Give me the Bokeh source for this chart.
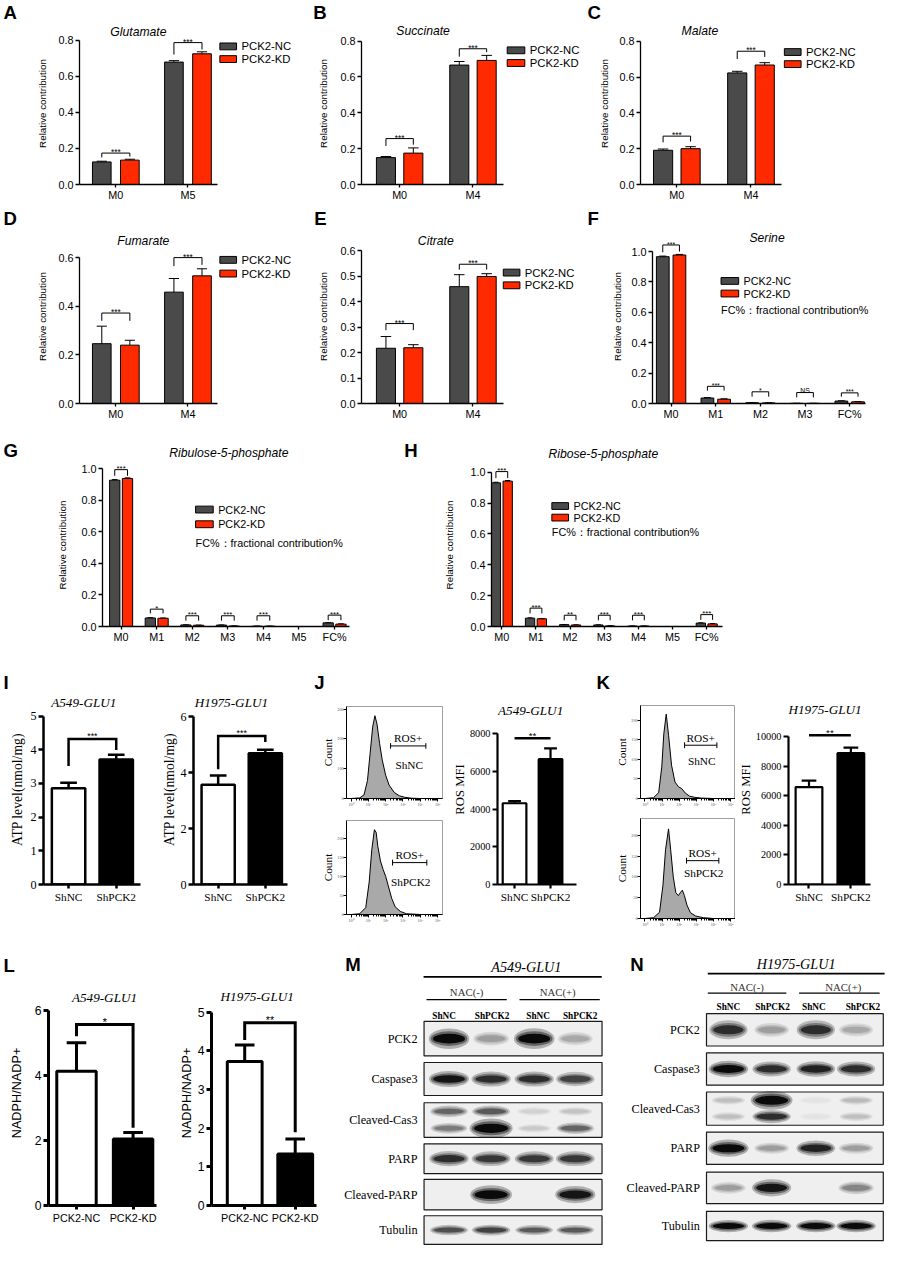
import math
import numpy as np
from bokeh.plotting import figure
from bokeh.models import (Range1d, Label, FixedTicker, Whisker, TeeHead,
                          ColumnDataSource, NumeralTickFormatter)
from bokeh.layouts import row, column
from bokeh.embed import file_html
from bokeh.resources import INLINE
from bokeh.core.properties import value

# ------------------------------------------------------------------ data
series_names = ["PCK2-NC", "PCK2-KD"]
fc_note = "FC%：fractional contribution%"

glu_cats = ["M0", "M5"]
glu_nc = [0.125, 0.678]
glu_nc_err = [0.004, 0.008]
glu_kd = [0.135, 0.724]
glu_kd_err = [0.005, 0.011]
glu_sig = ["***", "***"]
glu_brk = [0.174, 0.786]
glu_leg_nc = [0.150, 0.720]
glu_leg_kd = [0.155, 0.748]

suc_cats = ["M0", "M4"]
suc_nc = [0.150, 0.666]
suc_nc_err = [0.006, 0.020]
suc_kd = [0.175, 0.692]
suc_kd_err = [0.029, 0.028]
suc_sig = ["***", "***"]
suc_brk = [0.256, 0.757]
suc_leg_nc = [0.215, 0.713]
suc_leg_kd = [0.222, 0.738]

mal_cats = ["M0", "M4"]
mal_nc = [0.191, 0.623]
mal_nc_err = [0.007, 0.009]
mal_kd = [0.200, 0.667]
mal_kd_err = [0.011, 0.013]
mal_sig = ["***", "***"]
mal_brk = [0.270, 0.744]
mal_leg_nc = [0.235, 0.700]
mal_leg_kd = [0.240, 0.712]

fum_cats = ["M0", "M4"]
fum_nc = [0.246, 0.458]
fum_nc_err = [0.072, 0.056]
fum_kd = [0.240, 0.525]
fum_kd_err = [0.020, 0.029]
fum_sig = ["***", "***"]
fum_brk = [0.372, 0.600]
fum_leg_nc = [0.340, 0.565]
fum_leg_kd = [0.340, 0.570]

cit_cats = ["M0", "M4"]
cit_nc = [0.217, 0.459]
cit_nc_err = [0.046, 0.047]
cit_kd = [0.219, 0.499]
cit_kd_err = [0.012, 0.011]
cit_sig = ["***", "***"]
cit_brk = [0.314, 0.547]
cit_leg_nc = [0.288, 0.526]
cit_leg_kd = [0.288, 0.526]

ser_cats = ["M0", "M1", "M2", "M3", "FC%"]
ser_nc = [0.966, 0.036, 0.005, 0.001, 0.016]
ser_nc_err = [0.004, 0.003, 0.001, 0.0005, 0.002]
ser_kd = [0.977, 0.028, 0.004, 0.001, 0.011]
ser_kd_err = [0.004, 0.003, 0.001, 0.0005, 0.002]
ser_sig = ["***", "***", "*", "NS", "***"]
ser_brk = [1.043, 0.113, 0.077, 0.072, 0.070]
ser_leg_nc = [0.995, 0.085, 0.045, 0.040, 0.045]
ser_leg_kd = [1.000, 0.085, 0.045, 0.040, 0.045]

iso_cats = ["M0", "M1", "M2", "M3", "M4", "M5", "FC%"]
ru5p_nc = [0.927, 0.054, 0.010, 0.009, 0.002, 0.0, 0.023]
ru5p_nc_err = [0.004, 0.002, 0.001, 0.001, 0.0005, 0.0, 0.002]
ru5p_kd = [0.938, 0.052, 0.008, 0.003, 0.002, 0.0, 0.015]
ru5p_kd_err = [0.004, 0.002, 0.001, 0.001, 0.0005, 0.0, 0.002]
ru5p_sig = ["***", "*", "***", "***", "***", None, "***"]
ru5p_brk = [0.994, 0.110, 0.068, 0.068, 0.068, None, 0.072]
ru5p_leg = [0.955, 0.083, 0.037, 0.037, 0.037, None, 0.040]

r5p_nc = [0.931, 0.054, 0.012, 0.010, 0.003, 0.0, 0.022]
r5p_nc_err = [0.004, 0.002, 0.001, 0.001, 0.0005, 0.0, 0.002]
r5p_kd = [0.942, 0.050, 0.010, 0.004, 0.003, 0.0, 0.017]
r5p_kd_err = [0.004, 0.002, 0.001, 0.001, 0.0005, 0.0, 0.002]
r5p_sig = ["***", "***", "**", "***", "***", None, "***"]
r5p_brk = [1.004, 0.119, 0.073, 0.073, 0.073, None, 0.077]
r5p_leg = [0.962, 0.085, 0.040, 0.040, 0.040, None, 0.043]

sh_cats = ["ShNC", "ShPCK2"]
atp_a549 = [2.86, 3.71]
atp_a549_err = [0.16, 0.14]
atp_a549_brk = [4.32, 3.52, 3.99]
atp_h1975 = [3.57, 4.70]
atp_h1975_err = [0.33, 0.13]
atp_h1975_brk = [5.32, 4.13, 5.10]
atp_sig = "***"

ros_a549 = [4310, 6650]
ros_a549_err = [110, 570]
ros_a549_line = 7760
ros_h1975 = [6600, 8890]
ros_h1975_err = [440, 380]
ros_h1975_line = 10110
ros_sig = "**"

nadph_cats = ["PCK2-NC", "PCK2-KD"]
nadph_a549 = [4.14, 2.05]
nadph_a549_err = [0.88, 0.20]
nadph_a549_brk = [5.58, 5.22, 2.40]
nadph_a549_sig = "*"
nadph_h1975 = [3.72, 1.33]
nadph_h1975_err = [0.43, 0.39]
nadph_h1975_brk = [4.72, 4.28, 1.89]
nadph_h1975_sig = "**"

# flow histograms (log10 fluorescence, counts)
ja_nc_x = [0.0, 0.5, 0.75, 0.95, 1.1, 1.25, 1.38, 1.5, 1.65, 1.8, 2.0, 2.2, 2.5, 2.8, 3.1, 3.5, 4.0]
ja_nc_y = [0, 2, 12, 60, 150, 240, 278, 250, 185, 130, 78, 45, 20, 9, 4, 1, 0]
ja_kd_x = [0.0, 0.5, 0.85, 1.05, 1.2, 1.35, 1.45, 1.55, 1.7, 1.85, 2.0, 2.15, 2.35, 2.55, 2.85, 3.2, 4.0]
ja_kd_y = [0, 2, 18, 85, 170, 222, 215, 178, 140, 118, 100, 75, 42, 20, 8, 2, 0]
kh_nc_x = [0.0, 0.5, 0.8, 0.98, 1.1, 1.24, 1.38, 1.55, 1.75, 1.95, 2.15, 2.35, 2.6, 2.9, 3.3, 4.0]
kh_nc_y = [0, 2, 15, 80, 165, 215, 160, 85, 42, 30, 25, 14, 6, 3, 1, 0]
kh_kd_x = [0.0, 0.5, 0.85, 1.05, 1.2, 1.375, 1.5, 1.65, 1.8, 1.95, 2.08, 2.18, 2.3, 2.45, 2.65, 2.95, 3.4, 4.0]
kh_kd_y = [0, 2, 15, 80, 165, 215, 165, 100, 62, 55, 63, 68, 55, 32, 14, 6, 2, 0]

# western blots (relative band intensity per lane)
blot_lanes = ["ShNC", "ShPCK2", "ShNC", "ShPCK2"]
blot_groups = ["NAC(-)", "NAC(+)"]
blot_proteins = ["PCK2", "Caspase3", "Cleaved-Cas3", "PARP", "Cleaved-PARP", "Tubulin"]
m_pck2 = [1.0, 0.35, 1.0, 0.3]
m_casp3 = [0.95, 0.85, 0.85, 0.75]
m_ccas3_upper = [0.6, 0.65, 0.12, 0.18]
m_ccas3_lower = [0.5, 1.7, 0.15, 0.6]
m_parp = [0.85, 0.8, 0.8, 0.8]
m_cparp = [0.0, 1.15, 0.0, 0.95]
m_tubulin = [0.7, 0.75, 0.65, 0.65]
n_pck2 = [0.85, 0.35, 0.85, 0.3]
n_casp3 = [1.0, 0.85, 0.9, 0.85]
n_ccas3_upper = [0.2, 1.6, 0.04, 0.22]
n_ccas3_lower = [0.2, 0.85, 0.04, 0.2]
n_parp = [1.1, 0.35, 0.9, 0.35]
n_cparp = [0.35, 0.95, 0.0, 0.45]
n_tubulin = [1.0, 1.0, 1.0, 1.0]

# ------------------------------------------------------------------ style
S = 0.98
SANS = "Liberation Sans"
SERIF = "Liberation Serif"
NC_COL = "#4a4a4a"
KD_COL = "#ff2a00"


def R(v):
    return int(round(v * S))


def fs(v):
    return "%.1fpx" % (v * S)


class Panel:
    def __init__(self, X0, X1, Y0, Y1, fx0, fx1, fy0, fy1, xr, yr, axes=True):
        self.fx0, self.fx1, self.fy0, self.fy1 = fx0, fx1, fy0, fy1
        self.xr, self.yr = xr, yr
        kw = dict(width=R(X1) - R(X0), height=R(Y1) - R(Y0),
                  x_range=Range1d(*xr), y_range=Range1d(*yr),
                  min_border_left=R(fx0) - R(X0), min_border_right=R(X1) - R(fx1),
                  min_border_top=R(fy0) - R(Y0), min_border_bottom=R(Y1) - R(fy1),
                  output_backend="svg", toolbar_location=None, title=None)
        if not axes:
            kw.update(x_axis_type=None, y_axis_type=None)
        p = figure(**kw)
        p.outline_line_color = None
        p.grid.visible = False
        p.background_fill_color = "white"
        p.border_fill_color = "white"
        self.p = p

    def X(self, px):
        return self.xr[0] + (px - self.fx0) / (self.fx1 - self.fx0) * (self.xr[1] - self.xr[0])

    def Y(self, py):
        return self.yr[0] + (self.fy1 - py) / (self.fy1 - self.fy0) * (self.yr[1] - self.yr[0])

    def label(self, px, py, text, size, font=SANS, style="normal", align="center",
              baseline="middle", angle=0.0, color="black"):
        self.p.add_layout(Label(x=self.X(px), y=self.Y(py), text=text, text_font=font,
                                text_font_size=fs(size), text_font_style=style,
                                text_align=align, text_baseline=baseline,
                                angle=angle, text_color=color))


def strip(X0, X1, Y0, Y1):
    return Panel(X0, X1, Y0, Y1, X0, X1, Y0, Y1, (X0, X1), (0, Y1 - Y0), axes=False)


def style_axes(p, font, tsize, lw, tick_out):
    for ax in p.axis:
        ax.axis_line_color = "black"
        ax.axis_line_width = lw
        ax.major_tick_line_color = "black"
        ax.major_tick_line_width = lw
        ax.major_tick_out = R(tick_out)
        ax.major_tick_in = 0
        ax.minor_tick_line_color = None
        ax.major_label_text_font = font
        ax.major_label_text_font_size = fs(tsize)
        ax.major_label_text_color = "black"
        ax.major_label_standoff = 2


def ylabel(p, text, font, size, standoff):
    p.yaxis.axis_label = text
    p.yaxis.axis_label_text_font = font
    p.yaxis.axis_label_text_font_size = fs(size)
    p.yaxis.axis_label_text_font_style = "normal"
    p.yaxis.axis_label_text_color = "black"
    p.yaxis.axis_label_standoff = R(standoff)


def grouped(X0, X1, Y0, Y1, ax, axend, fr, top, y0, yt, ttop, ticks, c0, sp, bw_px, off_px,
            cats, nc, nce, kd, kde, sig, brk, legl, legr, star_size, yl_standoff):
    xr = ((ax - c0) / sp, (fr - c0) / sp)
    yr = (0.0, ttop * (y0 - top) / (y0 - yt))
    P = Panel(X0, X1, Y0, Y1, ax, fr, top, y0, xr, yr)
    p = P.p
    n = len(cats)
    xs = np.arange(n, dtype=float)
    bw = bw_px / sp
    off = off_px / sp
    for sgn, vals, errs, col in ((-1, nc, nce, NC_COL), (1, kd, kde, KD_COL)):
        xp = xs + sgn * off
        p.vbar(x=xp, width=bw, top=vals, bottom=0, fill_color=col,
               line_color="black", line_width=1.0)
        keep = [i for i in range(n) if errs[i] > 0]
        v = np.array([vals[i] for i in keep], float)
        e = np.array([errs[i] for i in keep], float)
        src = ColumnDataSource(dict(x=xp[keep], lo=v, hi=v + e))
        p.add_layout(Whisker(source=src, base="x", lower="lo", upper="hi",
                             line_color="black", line_width=1.0, lower_head=None,
                             upper_head=TeeHead(size=bw_px * 0.55 * S, line_color="black",
                                                line_width=1.0)))
    bxs, bys, tx, ty, tt, to = [], [], [], [], [], []
    for i in range(n):
        if sig[i] is None:
            continue
        bxs.append([i - off, i - off, i + off, i + off])
        bys.append([legl[i], brk[i], brk[i], legr[i]])
        tx.append(float(i))
        ty.append(brk[i])
        tt.append(sig[i])
        to.append(-1.0 * S if "*" in sig[i] else -2.5 * S)
    p.multi_line(xs=bxs, ys=bys, line_color="black", line_width=1.0)
    p.text(x=tx, y=ty, text=tt, y_offset=to, text_align="center",
           text_baseline="alphabetic", text_font=value(SANS),
           text_font_size=fs(star_size), text_color="black")
    p.xaxis.ticker = FixedTicker(ticks=list(range(n)))
    p.xaxis.major_label_overrides = {i: c for i, c in enumerate(cats)}
    p.xaxis.bounds = (xr[0], (axend - c0) / sp)
    p.yaxis.ticker = FixedTicker(ticks=ticks)
    p.yaxis.formatter = NumeralTickFormatter(format="0.0")
    p.yaxis.bounds = (0, ttop)
    style_axes(p, SANS, 11, 1.3, 4)
    p.xaxis.major_tick_out = R(3)
    p.xaxis.major_label_standoff = 1
    ylabel(p, "Relative contribution", SANS, 10, yl_standoff)
    return P


def legend(P, sx0, sx1, rows, tx, size):
    cx = P.X((sx0 + sx1) / 2.0)
    w = P.X(sx1) - P.X(sx0)
    h = P.Y(0) - P.Y(7)
    P.p.rect(x=[cx, cx], y=[P.Y(rows[0]), P.Y(rows[1])], width=w, height=h,
             fill_color=[NC_COL, KD_COL], line_color="black", line_width=1.0)
    P.label(tx, rows[0], series_names[0], size, align="left")
    P.label(tx, rows[1], series_names[1], size, align="left")


def simple(X0, X1, Y0, Y1, ax, axend, fr, top, y0, yt, ttop, ticks, c0, sp, bw_px,
           cats, vals, errs, font, tsize, csize, lw, cap_px):
    xr = ((ax - c0) / sp, (fr - c0) / sp)
    yr = (0.0, ttop * (y0 - top) / (y0 - yt))
    P = Panel(X0, X1, Y0, Y1, ax, fr, top, y0, xr, yr)
    p = P.p
    xs = np.arange(len(cats), dtype=float)
    v = np.array(vals, float)
    e = np.array(errs, float)
    src = ColumnDataSource(dict(x=xs, lo=v, hi=v + e))
    p.add_layout(Whisker(source=src, base="x", lower="lo", upper="hi", line_color="black",
                         line_width=lw, lower_head=None,
                         upper_head=TeeHead(size=cap_px * S, line_color="black", line_width=lw)))
    p.vbar(x=xs, width=bw_px / sp, top=v, bottom=0, fill_color=["white", "black"],
           line_color="black", line_width=lw)
    p.xaxis.ticker = FixedTicker(ticks=list(range(len(cats))))
    p.xaxis.major_label_overrides = {i: c for i, c in enumerate(cats)}
    p.xaxis.bounds = (xr[0], (axend - c0) / sp)
    p.yaxis.ticker = FixedTicker(ticks=ticks)
    p.yaxis.formatter = NumeralTickFormatter(format="0")
    p.yaxis.bounds = (0, ttop)
    style_axes(p, font, tsize, lw, 5)
    p.xaxis.major_label_text_font_size = fs(csize)
    p.xaxis.major_tick_out = R(4)
    return P


def bracket(P, x0, x1, ytop, yl, yr_, txt, size, lw, font=SANS, legs=True):
    p = P.p
    if legs:
        p.line(x=[x0, x0, x1, x1], y=[yl, ytop, ytop, yr_], line_color="black",
               line_width=lw, line_join="miter")
    else:
        p.line(x=[x0, x1], y=[ytop, ytop], line_color="black", line_width=lw)
    p.text(x=[(x0 + x1) / 2.0], y=[ytop], text=[txt], y_offset=[-(lw / 2.0 + 1.5) * S],
           text_align="center", text_baseline="alphabetic", text_font=value(font),
           text_font_size=fs(size), text_color="black")


SUP = ["\u2070", "\u00b9", "\u00b2", "\u00b3", "\u2074", "\u2075"]


def hist(X0, X1, Y0, Y1, fx0, fx1, fy0, fy1, hx, hy, ymax, yticks):
    P = Panel(X0, X1, Y0, Y1, fx0, fx1, fy0, fy1, (-0.26, 5.28), (0, ymax))
    p = P.p
    p.varea(x=hx, y1=[0] * len(hx), y2=hy, fill_color="#a9a9a9")
    p.line(x=hx, y=hy, line_color="black", line_width=1.0)
    p.outline_line_color = "#a0a0a0"
    p.outline_line_width = 1
    minor = [nn + math.log10(k) for nn in range(0, 6) for k in range(2, 10)
             if nn + math.log10(k) < 5.28]
    p.xaxis.ticker = FixedTicker(ticks=[0, 1, 2, 3, 4, 5], minor_ticks=minor)
    p.xaxis.major_label_overrides = {i: "10" + SUP[i] for i in range(6)}
    p.yaxis.ticker = FixedTicker(ticks=yticks)
    style_axes(p, SERIF, 4.2, 1.0, 3)
    for axis in p.axis:
        axis.major_label_text_color = "#555555"
        axis.major_label_standoff = 0
    p.xaxis.minor_tick_line_color = "black"
    p.xaxis.minor_tick_out = 2
    p.xaxis.minor_tick_in = 0
    ylabel(p, "Count", SERIF, 11.5, 0)
    return P


def gate(P, x0, x1, y, label_top, ty, label_bot, by):
    p = P.p
    X0, X1, Yc = P.X(x0), P.X(x1), P.Y(y)
    dy = P.Y(y - 3) - Yc
    p.segment(x0=[X0, X0, X1], y0=[Yc, Yc - dy, Yc - dy], x1=[X1, X0, X1],
              y1=[Yc, Yc + dy, Yc + dy], line_color="black", line_width=1.0)
    P.label((x0 + x1) / 2.0, ty, label_top, 11.5, font=SERIF)
    P.label((x0 + x1) / 2.0 + 1, by, label_bot, 11.5, font=SERIF)


def draw_bands(P, xs, ypx, intens, bw, bh):
    layers = [(1.22, 2.1, 0.28), (1.1, 1.5, 0.6), (0.96, 1.0, 1.0)]
    for sw, sh, k in layers:
        X, Yv, W, H, C = [], [], [], [], []
        for x, I in zip(xs, intens):
            if I <= 0.01:
                continue
            lvl = min(1.0, I) * k
            g = int(round(236 - 226 * lvl))
            X.append(x)
            Yv.append(P.Y(ypx))
            W.append(bw * sw * (0.8 + 0.2 * min(I, 1.3)))
            H.append(bh * sh * (0.5 + 0.5 * I))
            C.append("#%02x%02x%02x" % (g, g, g))
        if X:
            P.p.ellipse(x=X, y=Yv, width=W, height=H, fill_color=C, line_color=None)


def blot(X0, X1, letter, letter_x, title, title_x, title_y, top_line, nac_x, nac_y, nac_lines,
         nac_line_y, lane_lab_x, lane_y, band_x, box_x0, box_x1, rows_tb, lab_x, data, band_w):
    P = Panel(X0, X1, 950, 1276, X0, X1, 950, 1276, (X0, X1), (0, 326), axes=False)
    p = P.p
    P.label(letter_x, 984, letter, 19, style="bold", align="left")
    P.label(title_x, title_y, title, 14.5, font=SERIF, style="italic")
    p.segment(x0=[top_line[0]], y0=[P.Y(top_line[2])], x1=[top_line[1]], y1=[P.Y(top_line[2])],
              line_color="black", line_width=1.6)
    for gx, gname, (lx0, lx1) in zip(nac_x, blot_groups, nac_lines):
        P.label(gx, nac_y, gname, 11, font=SERIF, color="#333333")
        p.segment(x0=[lx0], y0=[P.Y(nac_line_y)], x1=[lx1], y1=[P.Y(nac_line_y)],
                  line_color="black", line_width=1.4)
    p.text(x=lane_lab_x, y=[P.Y(lane_y)] * 4, text=blot_lanes, text_align="center",
           text_baseline="middle", text_font=value(SERIF), text_font_style="bold",
           text_font_size=fs(9.5), text_color="black")
    tops = [P.Y(t) for t, b in rows_tb]
    bots = [P.Y(b) for t, b in rows_tb]
    p.quad(left=[box_x0] * 6, right=[box_x1] * 6, top=tops, bottom=bots,
           fill_color="#efefef", line_color=None)
    heights = [10, 8, 7, 8, 8.5, 6]
    for j, (t, b) in enumerate(rows_tb):
        if j == 2:
            up, low = data[2]
            draw_bands(P, band_x, t + 0.25 * (b - t), up, band_w, heights[j])
            draw_bands(P, band_x, t + 0.74 * (b - t), low, band_w, heights[j])
        else:
            draw_bands(P, band_x, (t + b) / 2.0, data[j], band_w, heights[j])
    p.quad(left=[box_x0] * 6, right=[box_x1] * 6, top=tops, bottom=bots,
           fill_color=None, line_color="#1a1a1a", line_width=1.2)
    p.text(x=[lab_x] * 6, y=[P.Y((t + b) / 2.0) for t, b in rows_tb], text=blot_proteins,
           text_align="right", text_baseline="middle", text_font=value(SERIF),
           text_font_size=fs(12.5), text_color="black")
    return P


LETTER = 19

# ------------------------------------------------------------------ row 1
S1 = strip(0, 906, 0, 22)
for lx, lt in ((3, "A"), (319, "B"), (599, "C")):
    S1.label(lx, 12, lt, LETTER, style="bold", align="left")

A = grouped(0, 300, 22, 210, 81, 222, 298, 22, 188, 40, 0.8, [0, 0.2, 0.4, 0.6, 0.8],
            118, 73.5, 19, 14.3, glu_cats, glu_nc, glu_nc_err, glu_kd, glu_kd_err,
            glu_sig, glu_brk, glu_leg_nc, glu_leg_kd, 8.5, 7)
A.label(141, 32, "Glutamate", 12.5, style="italic")
legend(A, 224, 241, (46.5, 59.5), 246, 11.5)

B = grouped(300, 596, 22, 210, 368, 513, 594, 22, 188, 41, 0.8, [0, 0.2, 0.4, 0.6, 0.8],
            407, 75, 19.5, 14, suc_cats, suc_nc, suc_nc_err, suc_kd, suc_kd_err,
            suc_sig, suc_brk, suc_leg_nc, suc_leg_kd, 8.5, 8)
B.label(431, 31, "Succinate", 12.5, style="italic")
legend(B, 517, 535, (50.5, 63.5), 540, 11.5)

C = grouped(596, 906, 22, 210, 653.5, 797, 904, 22, 189.3, 41.3, 0.8, [0, 0.2, 0.4, 0.6, 0.8],
            690.5, 75.5, 19.5, 14, mal_cats, mal_nc, mal_nc_err, mal_kd, mal_kd_err,
            mal_sig, mal_brk, mal_leg_nc, mal_leg_kd, 8.5, 6)
C.label(714, 31, "Malate", 12.5, style="italic")
legend(C, 800, 817, (52.5, 65), 822, 11.5)

# ------------------------------------------------------------------ row 2
S2 = strip(0, 906, 210, 234)
for lx, lt in ((3, "D"), (320, "E"), (599, "F")):
    S2.label(lx, 222.5, lt, LETTER, style="bold", align="left")

D = grouped(0, 300, 234, 432, 81, 222, 298, 234, 411.7, 262.7, 0.6, [0, 0.2, 0.4, 0.6],
            118, 73.5, 19, 14.3, fum_cats, fum_nc, fum_nc_err, fum_kd, fum_kd_err,
            fum_sig, fum_brk, fum_leg_nc, fum_leg_kd, 8.5, 7)
D.label(146, 246, "Fumarate", 12.5, style="italic")
legend(D, 224, 241, (265, 279), 246, 11.5)

E = grouped(300, 596, 234, 432, 368, 513, 594, 234, 411.7, 255.7, 0.6,
            [0, 0.1, 0.2, 0.3, 0.4, 0.5, 0.6], 407, 75, 19.5, 14, cit_cats, cit_nc,
            cit_nc_err, cit_kd, cit_kd_err, cit_sig, cit_brk, cit_leg_nc, cit_leg_kd, 8.5, 8)
E.label(444, 246, "Citrate", 12.5, style="italic")
legend(E, 513, 530, (278, 291), 535, 11.5)

F = grouped(596, 906, 234, 432, 665, 883, 904, 234, 413.3, 256.7, 1.0,
            [0, 0.2, 0.4, 0.6, 0.8, 1.0], 684, 45.6, 13, 8.5, ser_cats, ser_nc, ser_nc_err,
            ser_kd, ser_kd_err, ser_sig, ser_brk, ser_leg_nc, ser_leg_kd, 7, 5)
F.label(782, 243, "Serine", 12.5, style="italic")
legend(F, 735, 753, (287, 300), 758, 11)
F.label(735, 317, fc_note, 11, align="left")

# ------------------------------------------------------------------ row 3
S3 = strip(0, 906, 432, 472)
S3.label(3, 459, "G", LETTER, style="bold", align="left")
S3.label(412, 459, "H", LETTER, style="bold", align="left")
S3.label(233, 461, "Ribulose-5-phosphate", 12.5, style="italic")
S3.label(615, 462, "Ribose-5-phosphate", 12.5, style="italic")

G = grouped(0, 405, 472, 662, 104, 356.5, 403, 472, 638.3, 477.3, 1.0,
            [0, 0.2, 0.4, 0.6, 0.8, 1.0], 123, 36.3, 10.5, 6.5, iso_cats, ru5p_nc,
            ru5p_nc_err, ru5p_kd, ru5p_kd_err, ru5p_sig, ru5p_brk, ru5p_leg, ru5p_leg, 8, 10)
legend(G, 199, 217, (519, 534), 222, 11)
G.label(199, 553, fc_note, 11, align="left")

H = grouped(405, 906, 472, 662, 501.5, 736.5, 904, 472, 640.7, 481, 1.0,
            [0, 0.2, 0.4, 0.6, 0.8, 1.0], 512, 34.8, 9.5, 6, iso_cats, r5p_nc,
            r5p_nc_err, r5p_kd, r5p_kd_err, r5p_sig, r5p_brk, r5p_leg, r5p_leg, 8, 12)
legend(H, 563, 580, (516, 528), 585, 11)
H.label(563, 543, fc_note, 11, align="left")

# ------------------------------------------------------------------ row 4
S4 = strip(0, 906, 662, 708)
for lx, lt in ((3, "I"), (320, "J"), (608, "K")):
    S4.label(lx, 696, lt, LETTER, style="bold", align="left")

I1 = simple(0, 162, 708, 950, 44, 143, 160, 708, 908.3, 730.7, 5, [0, 1, 2, 3, 4, 5],
            69.5, 48.5, 34, sh_cats, atp_a549, atp_a549_err, SERIF, 12.5, 11.5, 2.5, 17)
I1.label(85, 716, "A549-GLU1", 13.5, font=SERIF, style="italic")
ylabel(I1.p, "ATP level(nmol/mg)", SERIF, 14, 2)
bracket(I1, 0, 1, atp_a549_brk[0], atp_a549_brk[1], atp_a549_brk[2], atp_sig, 9, 2.5)

I2 = simple(162, 315, 708, 950, 193, 292, 310, 708, 908.3, 731.7, 6, [0, 2, 4, 6],
            219, 49.7, 35, sh_cats, atp_h1975, atp_h1975_err, SERIF, 12.5, 11.5, 2.5, 17)
I2.label(233, 716, "H1975-GLU1", 13.5, font=SERIF, style="italic")
ylabel(I2.p, "ATP level(nmol/mg)", SERIF, 14, 0)
bracket(I2, 0, 1, atp_h1975_brk[0], atp_h1975_brk[1], atp_h1975_brk[2], atp_sig, 9, 2.5)

Jt = hist(315, 458, 708, 826, 353, 451, 720, 818, ja_nc_x, ja_nc_y, 309, [0, 100, 200, 300])
gate(Jt, 398, 434, 762, "ROS+", 754, "ShNC", 782)
Jb = hist(315, 458, 826, 950, 353, 451, 837, 933, ja_kd_x, ja_kd_y, 246, [0, 50, 100, 150, 200])
gate(Jb, 400, 435, 880, "ROS+", 872, "ShPCK2", 900)

Jr = simple(458, 600, 708, 950, 504, 587, 598, 708, 902, 748, 8000,
            [0, 2000, 4000, 6000, 8000], 522, 38, 25, sh_cats, ros_a549, ros_a549_err,
            SERIF, 10.5, 11.5, 2.2, 13)
Jr.label(539, 724, "A549-GLU1", 13.5, font=SERIF, style="italic")
ylabel(Jr.p, "ROS MFI", SERIF, 13, 0)
bracket(Jr, 0, 1, ros_a549_line, 0, 0, ros_sig, 10, 2.5, legs=False)

Kt = hist(600, 750, 708, 826, 653, 750, 719, 815, kh_nc_x, kh_nc_y, 237, [0, 50, 100, 150, 200])
gate(Kt, 698, 731, 760, "ROS+", 752.7, "ShNC", 776)
Kb = hist(600, 750, 826, 950, 653, 750, 835, 937, kh_kd_x, kh_kd_y, 240, [0, 50, 100, 150, 200])
gate(Kb, 700, 733, 878, "ROS+", 870, "ShPCK2", 891)

Kr = simple(750, 906, 708, 950, 794, 886, 904, 708, 905.5, 752, 10000,
            [0, 2000, 4000, 6000, 8000, 10000], 817, 47, 30, sh_cats, ros_h1975,
            ros_h1975_err, SERIF, 10.5, 11.5, 2.2, 15)
Kr.label(835, 724, "H1975-GLU1", 13.5, font=SERIF, style="italic")
ylabel(Kr.p, "ROS MFI", SERIF, 13, 0)
bracket(Kr, 0, 1, ros_h1975_line, 0, 0, ros_sig, 10, 2.5, legs=False)

# ------------------------------------------------------------------ row 5
S5 = strip(0, 340, 950, 1000)
S5.label(3, 985, "L", LETTER, style="bold", align="left")

L1 = simple(0, 180, 1000, 1276, 49.2, 159, 175, 1000, 1229.3, 1031, 6, [0, 2, 4, 6],
            77.6, 57.4, 40, nadph_cats, nadph_a549, nadph_a549_err, SANS, 12.5, 11, 3, 20)
L1.label(106, 1017, "A549-GLU1", 13.5, font=SERIF, style="italic")
ylabel(L1.p, "NADPH/NADP+", SANS, 13, 8)
bracket(L1, 0, 1, nadph_a549_brk[0], nadph_a549_brk[1], nadph_a549_brk[2],
        nadph_a549_sig, 12, 3)

L2 = simple(180, 340, 1000, 1276, 203.8, 321, 336, 1000, 1233.3, 1032.7, 5,
            [0, 1, 2, 3, 4, 5], 241, 56.6, 39, nadph_cats, nadph_h1975, nadph_h1975_err,
            SANS, 12.5, 11, 3, 20)
L2.label(255, 1017, "H1975-GLU1", 13.5, font=SERIF, style="italic")
ylabel(L2.p, "NADPH/NADP+", SANS, 13, 1)
bracket(L2, 0, 1, nadph_h1975_brk[0], nadph_h1975_brk[1], nadph_h1975_brk[2],
        nadph_h1975_sig, 11, 3)

M = blot(340, 625, "M", 352, "A549-GLU1", 537, 986, (432, 614, 996.4), (476, 569), 1012,
         [(435, 517), (530, 612)], 1019.6, [453, 502, 549, 592], 1036.8,
         [458, 501, 545, 587], 432.5, 614.3,
         [(1041.8, 1077.2), (1083.9, 1117.6), (1125, 1160.3), (1167, 1197.4),
          (1203.4, 1234.4), (1240.5, 1269.8)], 425.8,
         [m_pck2, m_casp3, (m_ccas3_upper, m_ccas3_lower), m_parp, m_cparp, m_tubulin], 34)

N = blot(625, 906, "N", 643, "H1975-GLU1", 812, 983, (722, 902, 993), (762, 860), 1007,
         [(722, 802), (815, 897)], 1013, [743, 788, 830, 880], 1027,
         [743, 787, 832, 873], 720.7, 900.7,
         [(1034, 1067), (1074, 1107), (1114, 1148), (1155, 1188), (1196, 1228),
          (1236, 1266)], 714,
         [n_pck2, n_casp3, (n_ccas3_upper, n_ccas3_lower), n_parp, n_cparp, n_tubulin], 33)

page = column(
    S1.p,
    row(A.p, B.p, C.p),
    S2.p,
    row(D.p, E.p, F.p),
    S3.p,
    row(G.p, H.p),
    S4.p,
    row(I1.p, I2.p, column(Jt.p, Jb.p), Jr.p, column(Kt.p, Kb.p), Kr.p),
    row(column(S5.p, row(L1.p, L2.p)), M.p, N.p),
)

open("out.html", "w").write(file_html(page, INLINE))
